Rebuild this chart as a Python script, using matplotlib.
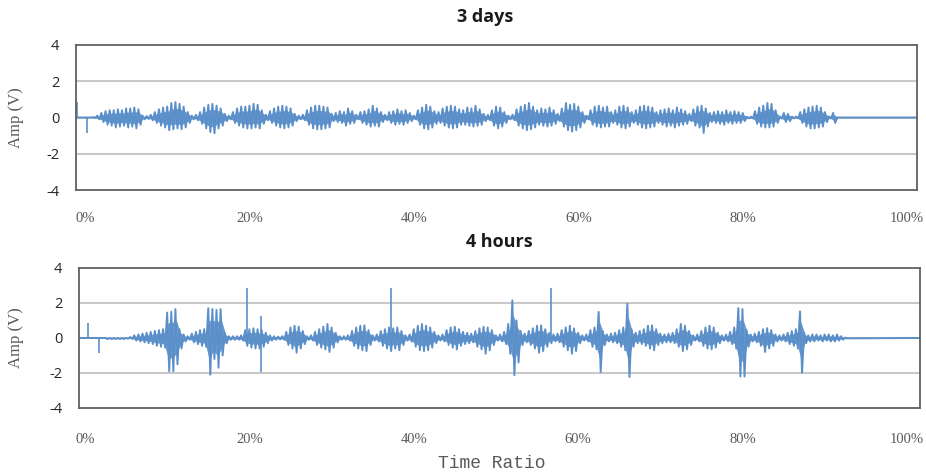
import numpy as np
import matplotlib.pyplot as plt

# envelope of the signal, one value per 0.5 % of time ratio
step = 0.5

top_hi = [0.0, 0.0, 0.02, 0.1, 0.25, 0.35, 0.4, 0.4, 0.45, 0.4,
          0.5, 0.5, 0.55, 0.45, 0.1, 0.08, 0.15, 0.3, 0.45, 0.55,
          0.6, 0.8, 0.85, 0.75, 0.6, 0.3, 0.1, 0.15, 0.3, 0.55,
          0.7, 0.75, 0.65, 0.5, 0.2, 0.1, 0.3, 0.5, 0.6, 0.6,
          0.65, 0.75, 0.7, 0.4, 0.15, 0.35, 0.5, 0.6, 0.65, 0.6,
          0.5, 0.2, 0.1, 0.15, 0.4, 0.55, 0.65, 0.65, 0.6, 0.55,
          0.2, 0.25, 0.35, 0.3, 0.5, 0.35, 0.15, 0.3, 0.35, 0.45,
          0.65, 0.5, 0.3, 0.15, 0.3, 0.35, 0.45, 0.35, 0.4, 0.25,
          0.1, 0.4, 0.55, 0.7, 0.6, 0.35, 0.3, 0.5, 0.6, 0.65,
          0.6, 0.45, 0.4, 0.55, 0.5, 0.65, 0.45, 0.2, 0.15, 0.4,
          0.6, 0.55, 0.3, 0.1, 0.15, 0.45, 0.6, 0.7, 0.8, 0.6,
          0.4, 0.5, 0.45, 0.55, 0.4, 0.2, 0.5, 0.8, 0.7, 0.75,
          0.6, 0.3, 0.1, 0.4, 0.6, 0.65, 0.55, 0.6, 0.3, 0.4,
          0.6, 0.65, 0.55, 0.3, 0.4, 0.6, 0.65, 0.6, 0.55, 0.3,
          0.4, 0.45, 0.5, 0.4, 0.55, 0.45, 0.35, 0.2, 0.45, 0.6,
          0.65, 0.5, 0.25, 0.3, 0.35, 0.3, 0.4, 0.3, 0.35, 0.3,
          0.25, 0.05, 0.05, 0.35, 0.55, 0.65, 0.8, 0.75, 0.4, 0.05,
          0.25, 0.2, 0.05, 0.05, 0.3, 0.45, 0.55, 0.6, 0.65, 0.55,
          0.3, 0.05, 0.25, 0.0, 0.0, 0.0]
top_lo = [0.0, 0.0, -0.02, -0.1, -0.25, -0.4, -0.45, -0.55, -0.5, -0.45,
          -0.55, -0.5, -0.6, -0.4, -0.1, -0.08, -0.15, -0.3, -0.45, -0.55,
          -0.7, -0.65, -0.6, -0.65, -0.55, -0.3, -0.1, -0.15, -0.35, -0.6,
          -0.8, -0.87, -0.6, -0.45, -0.2, -0.1, -0.3, -0.45, -0.55, -0.6,
          -0.6, -0.55, -0.6, -0.35, -0.15, -0.3, -0.45, -0.55, -0.6, -0.55,
          -0.45, -0.2, -0.1, -0.15, -0.4, -0.6, -0.65, -0.65, -0.6, -0.55,
          -0.2, -0.25, -0.3, -0.45, -0.35, -0.3, -0.1, -0.3, -0.4, -0.5,
          -0.45, -0.5, -0.25, -0.15, -0.3, -0.4, -0.35, -0.4, -0.3, -0.2,
          -0.1, -0.4, -0.6, -0.65, -0.55, -0.35, -0.3, -0.45, -0.55, -0.6,
          -0.55, -0.4, -0.4, -0.45, -0.5, -0.45, -0.4, -0.2, -0.15, -0.45,
          -0.6, -0.5, -0.3, -0.1, -0.15, -0.45, -0.6, -0.7, -0.65, -0.55,
          -0.4, -0.45, -0.5, -0.45, -0.35, -0.2, -0.5, -0.7, -0.78, -0.7,
          -0.55, -0.3, -0.1, -0.4, -0.5, -0.55, -0.5, -0.5, -0.3, -0.4,
          -0.55, -0.6, -0.5, -0.3, -0.4, -0.55, -0.6, -0.55, -0.5, -0.3,
          -0.4, -0.5, -0.45, -0.55, -0.45, -0.4, -0.35, -0.2, -0.45, -0.55,
          -0.85, -0.5, -0.25, -0.3, -0.35, -0.4, -0.3, -0.35, -0.3, -0.3,
          -0.2, -0.05, -0.05, -0.35, -0.5, -0.55, -0.55, -0.5, -0.3, -0.05,
          -0.25, -0.2, -0.05, -0.05, -0.3, -0.5, -0.6, -0.6, -0.55, -0.5,
          -0.25, -0.05, -0.3, 0.0, 0.0, 0.0]
top_spike_x = [-1.0, 0.2]
top_spike_y = [0.85, -0.87]

bot_hi = [0.0, 0.0, 0.0, 0.0, 0.0, 0.0, 0.0, 0.0, 0.0, 0.0,
          0.0, 0.05, 0.15, 0.2, 0.25, 0.3, 0.35, 0.4, 0.45, 0.5,
          1.45, 1.5, 1.65, 0.5, 0.2, 0.1, 0.25, 0.35, 0.45, 0.5,
          1.7, 1.65, 1.6, 1.65, 0.3, 0.1, 0.1, 0.1, 0.15, 0.45,
          0.5, 0.55, 0.5, 0.45, 0.3, 0.15, 0.1, 0.08, 0.1, 0.35,
          0.6, 0.7, 0.65, 0.4, 0.1, 0.15, 0.35, 0.5, 0.65, 0.8,
          0.6, 0.3, 0.1, 0.1, 0.15, 0.4, 0.6, 0.7, 0.72, 0.45,
          0.15, 0.2, 0.4, 0.5, 0.6, 0.55, 0.6, 0.4, 0.15, 0.2,
          0.5, 0.7, 0.8, 0.7, 0.6, 0.35, 0.15, 0.2, 0.45, 0.6,
          0.64, 0.5, 0.35, 0.3, 0.25, 0.4, 0.55, 0.64, 0.6, 0.45,
          0.15, 0.2, 0.35, 0.8, 2.15, 1.0, 0.4, 0.25, 0.4, 0.55,
          0.7, 0.72, 0.5, 0.3, 0.2, 0.25, 0.45, 0.6, 0.7, 0.55,
          0.3, 0.15, 0.2, 0.45, 0.6, 1.49, 0.4, 0.2, 0.25, 0.3,
          0.45, 0.6, 1.96, 0.5, 0.3, 0.4, 0.5, 0.7, 0.72, 0.5,
          0.25, 0.2, 0.25, 0.3, 0.5, 0.8, 0.7, 0.4, 0.15, 0.2,
          0.4, 0.6, 0.7, 0.6, 0.3, 0.15, 0.2, 0.35, 0.6, 1.71,
          1.65, 0.45, 0.2, 0.25, 0.35, 0.5, 0.56, 0.45, 0.2, 0.15,
          0.2, 0.3, 0.4, 0.5, 1.52, 0.3, 0.15, 0.2, 0.2, 0.15,
          0.2, 0.2, 0.15, 0.2, 0.1, 0.02]
bot_lo = [0.0, 0.0, 0.0, 0.0, 0.0, -0.06, -0.06, -0.06, -0.06, -0.06,
          -0.04, -0.05, -0.15, -0.2, -0.25, -0.3, -0.35, -0.45, -0.5, -0.55,
          -1.9, -1.9, -1.5, -0.6, -0.2, -0.1, -0.25, -0.35, -0.45, -0.5,
          -2.1, -1.2, -1.7, -1.0, -0.3, -0.1, -0.1, -0.1, -0.15, -0.45,
          -0.55, -0.6, -0.6, -0.5, -0.3, -0.15, -0.1, -0.08, -0.1, -0.4,
          -0.6, -0.84, -0.6, -0.35, -0.1, -0.15, -0.4, -0.55, -0.65, -0.8,
          -0.55, -0.25, -0.1, -0.1, -0.15, -0.45, -0.6, -0.7, -0.75, -0.4,
          -0.15, -0.2, -0.45, -0.6, -0.75, -0.6, -0.7, -0.4, -0.15, -0.2,
          -0.5, -0.7, -0.75, -0.7, -0.55, -0.3, -0.15, -0.2, -0.4, -0.55,
          -0.65, -0.45, -0.35, -0.3, -0.25, -0.5, -0.65, -0.9, -0.7, -0.4,
          -0.15, -0.2, -0.35, -0.9, -2.13, -1.4, -0.4, -0.25, -0.4, -0.6,
          -0.84, -0.75, -0.5, -0.3, -0.2, -0.25, -0.5, -0.7, -0.9, -0.75,
          -0.3, -0.15, -0.2, -0.5, -0.65, -1.94, -0.4, -0.2, -0.25, -0.3,
          -0.5, -0.7, -2.23, -0.5, -0.3, -0.35, -0.45, -0.6, -0.7, -0.4,
          -0.3, -0.25, -0.25, -0.3, -0.5, -0.75, -0.65, -0.4, -0.15, -0.2,
          -0.45, -0.6, -0.65, -0.55, -0.3, -0.15, -0.2, -0.35, -0.6, -2.2,
          -2.2, -0.5, -0.2, -0.25, -0.45, -0.8, -0.6, -0.45, -0.2, -0.15,
          -0.2, -0.35, -0.45, -0.6, -1.98, -0.3, -0.2, -0.2, -0.15, -0.2,
          -0.15, -0.2, -0.2, -0.15, -0.1, -0.02]
bot_spike_x = [0.4, 1.7, 19.7, 21.4, 21.4, 37.2, 56.7]
bot_spike_y = [0.87, -0.84, 2.85, 1.25, -1.95, 2.85, 2.85]

xticks = [0, 20, 40, 60, 80, 100]
xticklabels = ['0%', '20%', '40%', '60%', '80%', '100%']
yticks = [-4, -2, 0, 2, 4]

blue = '#5b8fc9'


def zigzag(hi, lo, xmin, xmax):
    """hi at bin start, lo half a bin later, flat zero outside"""
    pos = np.arange(len(hi)) * step
    xs = np.empty(2 * len(hi)); ys = np.empty(2 * len(hi))
    xs[0::2] = pos; xs[1::2] = pos + step / 2
    ys[0::2] = hi; ys[1::2] = lo
    xs = np.concatenate([[xmin], xs, [xmax]])
    ys = np.concatenate([[0], ys, [0]])
    return xs, ys


def panel(ax, hi, lo, sx, sy, xlim):
    for g in (-2, 0, 2):
        ax.axhline(g, color='#c8c8c8', lw=1.5, zorder=0)
    xs, ys = zigzag(hi, lo, xlim[0], xlim[1])
    # the dense body of each burst, then the ragged trace over it
    pos = np.arange(len(hi)) * step
    ax.fill_between(pos + step / 4, 0.6 * np.array(hi), 0.6 * np.array(lo),
                    color=blue, lw=0, alpha=0.9)
    ax.plot(xs, ys, color=blue, lw=1.4)
    ax.vlines(sx, 0, sy, color=blue, lw=1.2)
    ax.set_xlim(*xlim); ax.set_ylim(-4, 4)
    ax.set_yticks(yticks)
    ax.set_yticklabels([str(v) for v in yticks], fontfamily='Open Sans',
                       fontsize=10.5, color='#262626')
    ax.set_xticks(xticks)
    ax.set_xticklabels(xticklabels, fontfamily='Liberation Serif',
                       fontsize=10.5, color='#595959')
    ax.tick_params(length=0)
    ax.tick_params(axis='y', pad=12)
    for s in ax.spines.values():
        s.set_color('#606060'); s.set_linewidth(1.3)
    ax.set_ylabel('Amp (V)', fontfamily='Liberation Serif', fontsize=12,
                  color='#595959')


fig = plt.figure(figsize=(9.26, 4.76), dpi=100)
ax1 = fig.add_axes([0.0821, 0.6008, 0.9082, 0.3047])
ax2 = fig.add_axes([0.0853, 0.1429, 0.9082, 0.2941])

panel(ax1, top_hi, top_lo, top_spike_x, top_spike_y, (-1.09, 101.2))
panel(ax2, bot_hi, bot_lo, bot_spike_x, bot_spike_y, (-0.73, 101.6))
ax1.tick_params(axis='x', pad=16)
ax2.tick_params(axis='x', pad=18)
ax1.yaxis.set_label_coords(-0.062, 0.5)
ax2.yaxis.set_label_coords(-0.065, 0.5)

fig.text(0.524, 0.964, '3 days', ha='center', va='center',
         fontfamily='Open Sans', fontweight='bold', fontsize=13, color='#1a1a1a')
fig.text(0.539, 0.492, '4 hours', ha='center', va='center',
         fontfamily='Open Sans', fontweight='bold', fontsize=13, color='#1a1a1a')
fig.text(0.531, 0.027, 'Time Ratio', ha='center', va='center',
         fontfamily='Liberation Mono', fontsize=13, color='#595959')

fig.savefig('out.png', dpi=100)
